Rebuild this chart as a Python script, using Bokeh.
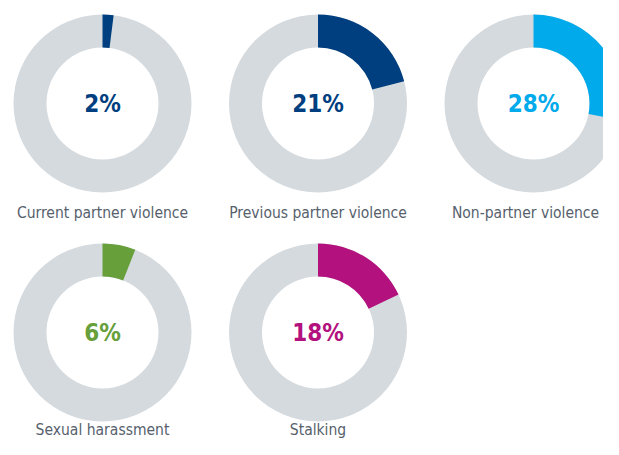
import math
from bokeh.plotting import figure
from bokeh.models import Range1d, ColumnDataSource
from bokeh.core.properties import value
from bokeh.embed import file_html
from bokeh.resources import INLINE

categories = ["Current partner violence", "Previous partner violence",
              "Non-partner violence", "Sexual harassment", "Stalking"]
percentages = [2, 21, 28, 6, 18]
colors = ["#003f7f", "#003f7f", "#00aaeb", "#67a03a", "#b3117e"]
track_color = "#d5dade"
label_color = "#56616c"
FONT = "DejaVu Sans Condensed"

W, H = 603, 439
p = figure(width=W, height=H, output_backend="svg", toolbar_location=None,
           x_range=Range1d(0, W), y_range=Range1d(-H, 0),
           min_border=0, outline_line_color=None)
p.axis.visible = False
p.grid.visible = False
p.background_fill_color = "white"

cx, cy, sx, ex, lx, ly = [], [], [], [], [], []
for i, v in enumerate(percentages):
    col, row = i % 3, i // 3
    x = 102 + col * 215.5
    y = -(103 + row * 229)
    cx.append(x)
    cy.append(y)
    sx.append(math.pi / 2)
    ex.append(math.pi / 2 - 2 * math.pi * v / 100)
    # keep the right-hand label inside the canvas
    lx.append(min(x, W - 78))
    ly.append(-(212 + row * 217))

src = ColumnDataSource(dict(x=cx, y=cy, start=sx, end=ex, color=colors,
                            pct=[f"{v}%" for v in percentages],
                            cat=categories, lx=lx, ly=ly))

p.annulus(x="x", y="y", inner_radius=56, outer_radius=89, source=src,
          fill_color=track_color, line_color=None)
p.annular_wedge(x="x", y="y", inner_radius=56, outer_radius=89,
                start_angle="start", end_angle="end", direction="clock",
                fill_color="color", line_color=None, source=src)
p.text(x="x", y="y", text="pct", source=src, text_color="color",
       text_font=value(FONT), text_font_style="bold",
       text_font_size="24px", text_align="center", text_baseline="middle")
p.text(x="lx", y="ly", text="cat", source=src, text_color=label_color,
       text_font=value(FONT),
       text_font_size="15.5px", text_align="center", text_baseline="middle")

open("out.html", "w").write(file_html(p, INLINE))
